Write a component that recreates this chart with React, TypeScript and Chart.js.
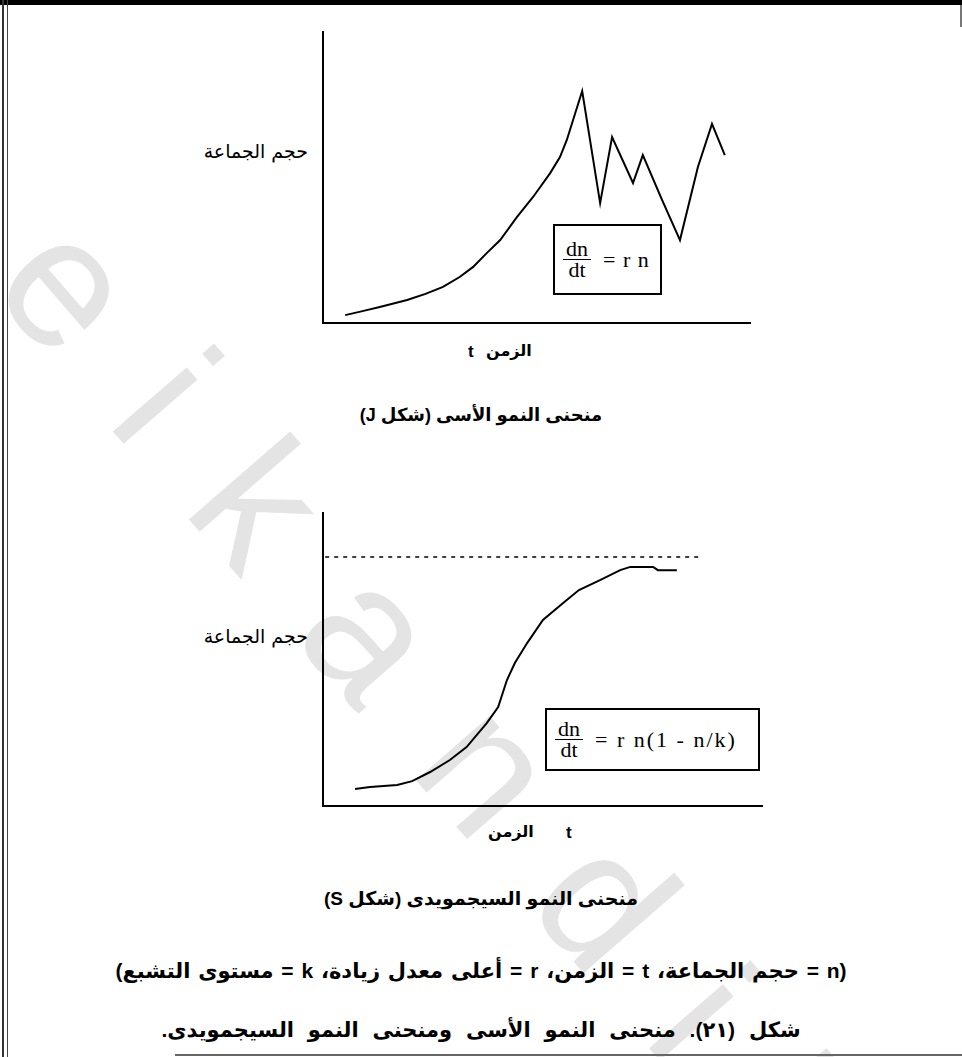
import React, { useEffect, useRef } from "react";
import { Chart, registerables } from "chart.js";

Chart.register(...registerables);

// J-shaped (exponential) growth: time t against population size n
const jTime = [0.52, 0.9, 1.33, 1.97, 2.4, 2.81, 3.2, 3.51, 3.84, 4.15, 4.54, 4.92, 5.32, 5.55, 5.71, 6.07, 6.49, 6.77, 7.26, 7.49, 7.94, 8.36, 8.78, 9.11, 9.41];
const jSize = [0.27, 0.4, 0.55, 0.79, 1.0, 1.24, 1.58, 1.92, 2.41, 2.85, 3.64, 4.33, 5.15, 5.7, 6.29, 7.97, 4.12, 6.39, 4.81, 5.77, 4.23, 2.85, 5.36, 6.84, 5.77];

// S-shaped (logistic) growth levelling off under the carrying capacity
const sTime = [0.73, 1.07, 1.69, 2.03, 2.44, 2.89, 3.27, 3.73, 3.99, 4.19, 4.37, 4.65, 5.01, 5.47, 5.83, 6.31, 6.77, 7.0, 7.52, 7.63, 8.06];
const sSize = [0.58, 0.65, 0.72, 0.85, 1.16, 1.57, 2.01, 2.83, 3.38, 4.3, 4.88, 5.56, 6.35, 6.93, 7.37, 7.71, 8.05, 8.16, 8.16, 8.05, 8.05];

// carrying capacity k and the time span its guide line covers
const capacityLevel = 8.5;
const capacitySpan = [0.05, 8.63];

const AXIS_MAX = 10;
const PAD = 4;

const toPoints = (xs: number[], ys: number[]) => xs.map((x, i) => ({ x, y: ys[i] }));

type Box = { left: number; top: number; right: number; bottom: number };

function GrowthChart({ area, datasets }: { area: Box; datasets: any[] }) {
  const ref = useRef<HTMLCanvasElement>(null);
  const w = area.right - area.left + PAD * 2;
  const h = area.bottom - area.top + PAD * 2;
  useEffect(() => {
    const axis = {
      type: "linear" as const,
      min: 0,
      max: AXIS_MAX,
      grid: { display: false, drawTicks: false, tickLength: 0 },
      ticks: { display: false },
      border: { color: "#000", width: 2 },
    };
    const chart = new Chart(ref.current!, {
      type: "line",
      data: { datasets },
      options: {
        animation: false,
        responsive: false,
        maintainAspectRatio: false,
        events: [],
        layout: { padding: PAD },
        plugins: { legend: { display: false }, tooltip: { enabled: false } },
        scales: { x: axis, y: axis },
      },
    });
    return () => chart.destroy();
  }, []);
  return (
    <canvas
      ref={ref}
      width={w}
      height={h}
      style={{ position: "absolute", left: area.left - PAD, top: area.top - PAD, width: w, height: h }}
    />
  );
}

const curve = (xs: number[], ys: number[]) => ({
  data: toPoints(xs, ys),
  borderColor: "#000",
  borderWidth: 2,
  pointRadius: 0,
  tension: 0,
  fill: false,
});

const capacityLine = {
  data: toPoints(capacitySpan, capacitySpan.map(() => capacityLevel)),
  borderColor: "#000",
  borderWidth: 1.5,
  borderDash: [4, 5],
  pointRadius: 0,
  fill: false,
};

const arabic = '"DejaVu Sans", sans-serif';
const serif = '"Liberation Serif", "DejaVu Serif", serif';

function Formula({ box, rest, spacing }: { box: Box; rest: string; spacing: number }) {
  return (
    <div
      style={{
        position: "absolute",
        left: box.left,
        top: box.top,
        width: box.right - box.left,
        height: box.bottom - box.top,
        boxSizing: "border-box",
        border: "2px solid #000",
        display: "flex",
        alignItems: "center",
        paddingLeft: 8,
        fontFamily: serif,
        fontSize: 22,
        color: "#000",
        background: "#fff",
      }}
    >
      <div style={{ display: "inline-flex", flexDirection: "column", alignItems: "center", lineHeight: "20px" }}>
        <span>dn</span>
        <span style={{ borderTop: "1px solid #000", width: 28, textAlign: "center" }}>dt</span>
      </div>
      <span style={{ marginLeft: 12, letterSpacing: spacing, whiteSpace: "pre" }}>{rest}</span>
    </div>
  );
}

function Label({ text, style }: { text: string; style: React.CSSProperties }) {
  return (
    <div style={{ position: "absolute", whiteSpace: "nowrap", color: "#000", lineHeight: 1, ...style }}>{text}</div>
  );
}

function CenterLine({ text, top, size, gap = 0 }: { text: string; top: number; size: number; gap?: number }) {
  return (
    <div
      dir="rtl"
      style={{
        position: "absolute",
        left: 0,
        width: 962,
        top,
        textAlign: "center",
        fontFamily: '"Liberation Sans", "DejaVu Sans", sans-serif',
        fontWeight: "bold",
        fontSize: size,
        wordSpacing: gap,
        lineHeight: 1,
        whiteSpace: "nowrap",
        color: "#000",
      }}
    >
      {text}
    </div>
  );
}

export default function App() {
  const jArea = { left: 323, top: 32, right: 750, bottom: 323 };
  const sArea = { left: 323, top: 513, right: 762, bottom: 806 };
  return (
    <div
      style={{
        position: "absolute",
        left: 0,
        top: 0,
        width: 962,
        height: 1057,
        overflow: "hidden",
        background: "#fff",
      }}
    >
      <svg width={962} height={1057} style={{ position: "absolute", left: 0, top: 0 }}>
        <text
          x={-12}
          y={288}
          transform="rotate(49 -12 288)"
          fontFamily='"Liberation Sans", sans-serif'
          fontSize={185}
          fill="#e4e4e4"
          style={{ letterSpacing: "75px" }}
        >
          eikandil
        </text>
      </svg>

      {/* page frame */}
      <div style={{ position: "absolute", left: 0, top: 0, width: 962, height: 5, background: "#000" }} />
      <div style={{ position: "absolute", left: 2, top: 0, width: 2, height: 1057, background: "#333" }} />
      <div style={{ position: "absolute", left: 7, top: 0, width: 1, height: 1057, background: "#444" }} />
      <div style={{ position: "absolute", left: 960, top: 5, width: 2, height: 22, background: "#777" }} />
      <div style={{ position: "absolute", left: 175, top: 1054, width: 787, height: 2, background: "#666" }} />

      <GrowthChart area={jArea} datasets={[curve(jTime, jSize)]} />
      <GrowthChart area={sArea} datasets={[capacityLine, curve(sTime, sSize)]} />

      <Formula box={{ left: 553, top: 224, right: 662, bottom: 295 }} rest="= r n" spacing={1} />
      <Formula box={{ left: 545, top: 708, right: 760, bottom: 771 }} rest="= r n(1 - n/k)" spacing={2} />

      <Label text="حجم الجماعة" style={{ right: 962 - 308, top: 142, fontFamily: arabic, fontSize: 19 }} />
      <Label text="حجم الجماعة" style={{ right: 962 - 308, top: 627, fontFamily: arabic, fontSize: 19 }} />

      <Label text="t" style={{ left: 468, top: 343, fontFamily: '"Liberation Sans", sans-serif', fontWeight: "bold", fontSize: 17 }} />
      <Label text="الزمن" style={{ left: 486, top: 343, fontFamily: arabic, fontWeight: "bold", fontSize: 16 }} />
      <Label text="الزمن" style={{ left: 488, top: 824, fontFamily: arabic, fontWeight: "bold", fontSize: 16 }} />
      <Label text="t" style={{ left: 566, top: 824, fontFamily: '"Liberation Sans", sans-serif', fontWeight: "bold", fontSize: 17 }} />

      <CenterLine text="منحنى النمو الأسى (شكل J)" top={406} size={18} />
      <CenterLine text="منحنى النمو السيجمويدى (شكل S)" top={889} size={19} />
      <CenterLine text="(n = حجم الجماعة، t = الزمن، r = أعلى معدل زيادة، k = مستوى التشبع)" top={960} size={21} gap={2} />
      <CenterLine text="شكل (٢١). منحنى النمو الأسى ومنحنى النمو السيجمويدى." top={1019} size={21} gap={8} />
    </div>
  );
}
